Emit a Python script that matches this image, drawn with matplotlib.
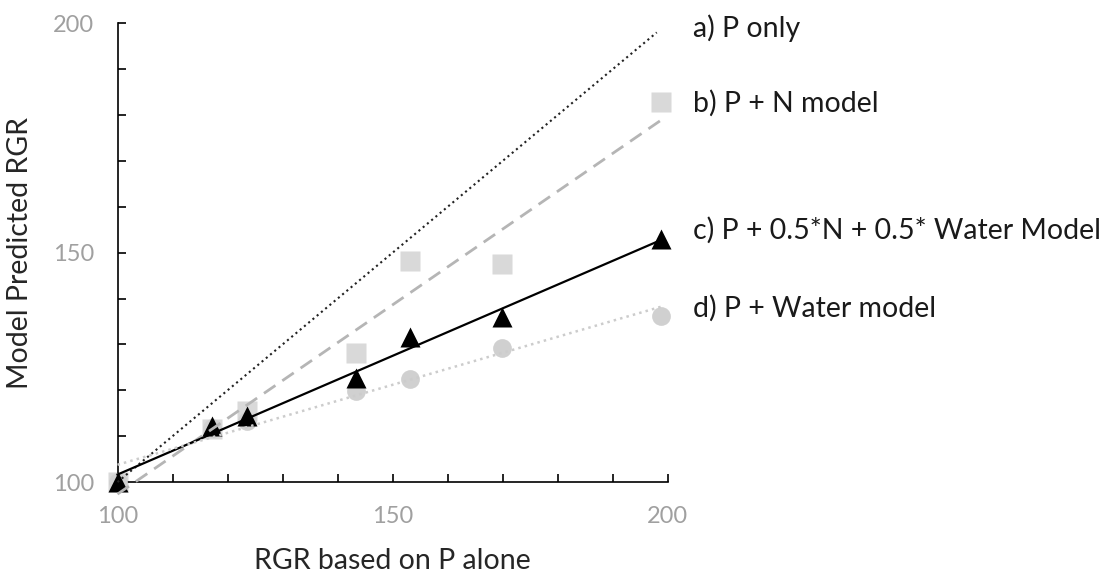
import matplotlib
matplotlib.use("Agg")
import matplotlib.pyplot as plt
import numpy as np
from matplotlib.ticker import MultipleLocator

plt.rcParams['font.family'] = ['Lato', 'DejaVu Sans']

# RGR based on P alone (x) for every model
rgr_p = [100, 117.1, 123.6, 143.3, 153.1, 169.8, 198.8]
# model predictions
p_only = [100, 117.1, 123.6, 143.3, 153.1, 169.8, 198.0]
p_n = [100, 111.6, 115.5, 128.2, 148.2, 147.6, 182.8]
p_mix = [100, 112.2, 114.3, 122.7, 131.7, 135.9, 152.9]
p_water = [100, 111.8, 113.4, 119.9, 122.5, 129.2, 136.2]

labels = ['a) P only', 'b) P + N model',
          'c) P + 0.5*N + 0.5* Water Model', 'd) P + Water model']
label_y = [0.951, 0.821, 0.600, 0.464]

fig = plt.figure(figsize=(11.17, 5.75), dpi=100)
fig.set_facecolor('white')
ax = fig.add_axes([0.1052, 0.1616, 0.4926, 0.7979])

ax.plot(rgr_p, p_n, 's', color='#d9d9d9', ms=14, mec='none', zorder=2)
ax.plot(rgr_p, p_water, 'o', color='#d0d0d0', ms=13.5, mec='none', zorder=3)
ax.plot(rgr_p, p_mix, '^', color='black', ms=14.5, mec='none', zorder=4)

# trend lines
xs = np.array([rgr_p[0], rgr_p[-1]])
ax.plot(rgr_p[:-1] + [198.0], p_only, ':', color='#222222', lw=1.5, zorder=5)
k, b = np.polyfit(rgr_p, p_n, 1)
ax.plot(xs, k * xs + b, '--', color='#b5b5b5', lw=2, dashes=(5, 3), zorder=5)
k, b = np.polyfit(rgr_p, p_mix, 1)
ax.plot(xs, k * xs + b, '-', color='black', lw=1.6, zorder=5)
k, b = np.polyfit(rgr_p, p_water, 1)
ax.plot(xs, k * xs + b, ':', color='#cccccc', lw=1.8, zorder=5)

ax.set_xlim(100, 200)
ax.set_ylim(100, 200)
ax.xaxis.set_major_locator(MultipleLocator(50))
ax.yaxis.set_major_locator(MultipleLocator(50))
ax.xaxis.set_minor_locator(MultipleLocator(10))
ax.yaxis.set_minor_locator(MultipleLocator(10))
ax.tick_params(which='both', direction='in', length=6, width=1.2,
               color='black', labelcolor='#a0a0a0', labelsize=17, pad=17)
for s in ['top', 'right']:
    ax.spines[s].set_visible(False)
for s in ['left', 'bottom']:
    ax.spines[s].set_linewidth(1.2)
    ax.spines[s].set_clip_on(False)
for ln in ax.lines:
    ln.set_clip_on(False)

ax.set_xlabel('RGR based on P alone', fontsize=20.5, color='#262626', labelpad=15)
ax.set_ylabel('Model Predicted RGR', fontsize=20.5, color='#262626', labelpad=14)

for txt, y in zip(labels, label_y):
    fig.text(0.620, y, txt, fontsize=20.5, color='#1a1a1a', va='center', ha='left')

fig.savefig('out.png', dpi=100, facecolor='white')
